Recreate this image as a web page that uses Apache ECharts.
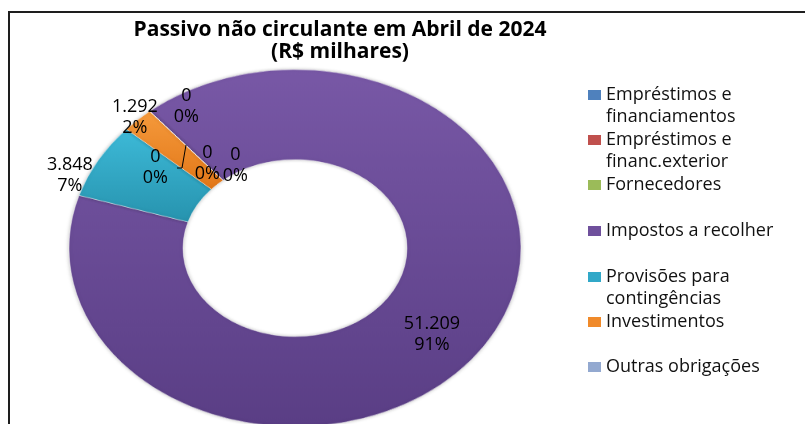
<!DOCTYPE html>
<html>
<head>
<meta charset="utf-8">
<script src="https://cdn.jsdelivr.net/npm/echarts@6/dist/echarts.min.js"></script>
<style>
  html, body { margin: 0; padding: 0; background: #fff; }
  #wrap { position: relative; width: 805px; height: 424px; overflow: hidden; }
  /* the reference donut is squashed vertically, so the ring chart is drawn round and scaled */
  #ring { position: absolute; left: 0; top: 0; width: 805px; height: 537px; transform: scaleY(0.79); transform-origin: 0 0; }
  #main { position: absolute; left: 0; top: 0; width: 805px; height: 424px; }
</style>
</head>
<body>
<div id="wrap">
  <div id="ring"></div>
  <div id="main"></div>
</div>
<script>
const categories = [
  'Empréstimos e financiamentos',
  'Empréstimos e financ.exterior',
  'Fornecedores',
  'Impostos a recolher',
  'Provisões para contingências',
  'Investimentos',
  'Outras obrigações'
]
const values = [0, 0, 0, 51209, 3848, 1292, 0]
const legendText = [
  '\nEmpréstimos e\nfinanciamentos',
  '\nEmpréstimos e\nfinanc.exterior',
  'Fornecedores',
  'Impostos a recolher',
  '\nProvisões para\ncontingências',
  'Investimentos',
  'Outras obrigações'
]
const colors = ['#4f81bd', '#c0504d', '#9bbb59', '#6f509c', '#31a8c8', '#f08a2a', '#93a9d0']

// slice fills with the soft top-to-bottom shading of the original
const grad = (a, b) => ({
  type: 'linear', x: 0, y: 0, x2: 0, y2: 1,
  colorStops: [{ offset: 0, color: a }, { offset: 1, color: b }]
})
const fills = [
  colors[0], colors[1], colors[2],
  grad('#7858a6', '#5a3e85'),
  grad('#3dbad8', '#2793ae'),
  grad('#f59a3c', '#e27718'),
  colors[6]
]

const fmt = (v) => String(v).replace(/\B(?=(\d{3})+(?!\d))/g, '.')

const font = '"Open Sans", Lato, sans-serif'
const legendTop = [62, 107, 174, 220, 244, 311, 356]
const labelShift = [[-20, -36], [-51, 25], [1, 21], [22, 10], [-105, -5], [-64, -32], [29, 23]]

const ring = echarts.init(document.getElementById('ring'))
ring.setOption({
  animation: false,
  series: [{
    type: 'pie',
    center: [295, 314],
    radius: [112, 226],
    startAngle: 130,
    label: { show: false },
    labelLine: { show: false },
    itemStyle: { borderColor: 'rgba(255,255,255,0.45)', borderWidth: 1, shadowBlur: 4, shadowColor: 'rgba(0,0,0,0.25)' },
    data: categories.map((name, i) => ({ name, value: values[i], itemStyle: { color: fills[i] } }))
  }]
})

const chart = echarts.init(document.getElementById('main'))
chart.setOption({
  animation: false,
  backgroundColor: 'transparent',
  title: {
    text: 'Passivo não circulante em Abril de 2024\n(R$ milhares)',
    left: 340,
    top: 19,
    padding: 0,
    textAlign: 'center',
    textStyle: { fontFamily: font, fontWeight: 'bold', fontSize: 21, lineHeight: 22, color: '#000' }
  },
  legend: categories.map((name, i) => ({
    orient: 'vertical',
    left: 588,
    top: legendTop[i],
    padding: 0,
    itemWidth: 13,
    itemHeight: 10,
    icon: 'rect',
    selectedMode: false,
    formatter: () => legendText[i],
    textStyle: { fontFamily: font, fontSize: 18, lineHeight: 22, color: '#111' },
    data: [{ name, itemStyle: { color: colors[i], opacity: 1 } }]
  })),
  graphic: [{
    type: 'rect',
    z: -1,
    shape: { x: 9, y: 12, width: 900, height: 500 },
    style: { fill: 'none', stroke: '#1e1e1e', lineWidth: 2 }
  }, {
    // short leader line of a zero label, as in the original
    type: 'polyline',
    shape: { points: [[186, 145], [182, 168], [177, 168]] },
    style: { fill: 'none', stroke: '#000', lineWidth: 1 }
  }],
  series: [{
    type: 'pie',
    silent: true,
    center: [295, 248],
    radius: [90, 180],
    startAngle: 130,
    percentPrecision: 0,
    itemStyle: { color: 'rgba(0,0,0,0)' },
    label: {
      show: true,
      position: 'inside',
      fontFamily: font,
      fontSize: 18,
      lineHeight: 21,
      color: '#000',
      formatter: (p) => fmt(p.value) + '\n' + p.percent + '%'
    },
    labelLine: { show: false },
    labelLayout: (p) => ({ dx: labelShift[p.dataIndex][0], dy: labelShift[p.dataIndex][1] }),
    data: categories.map((name, i) => ({ name, value: values[i] }))
  }]
})
</script>
</body>
</html>
